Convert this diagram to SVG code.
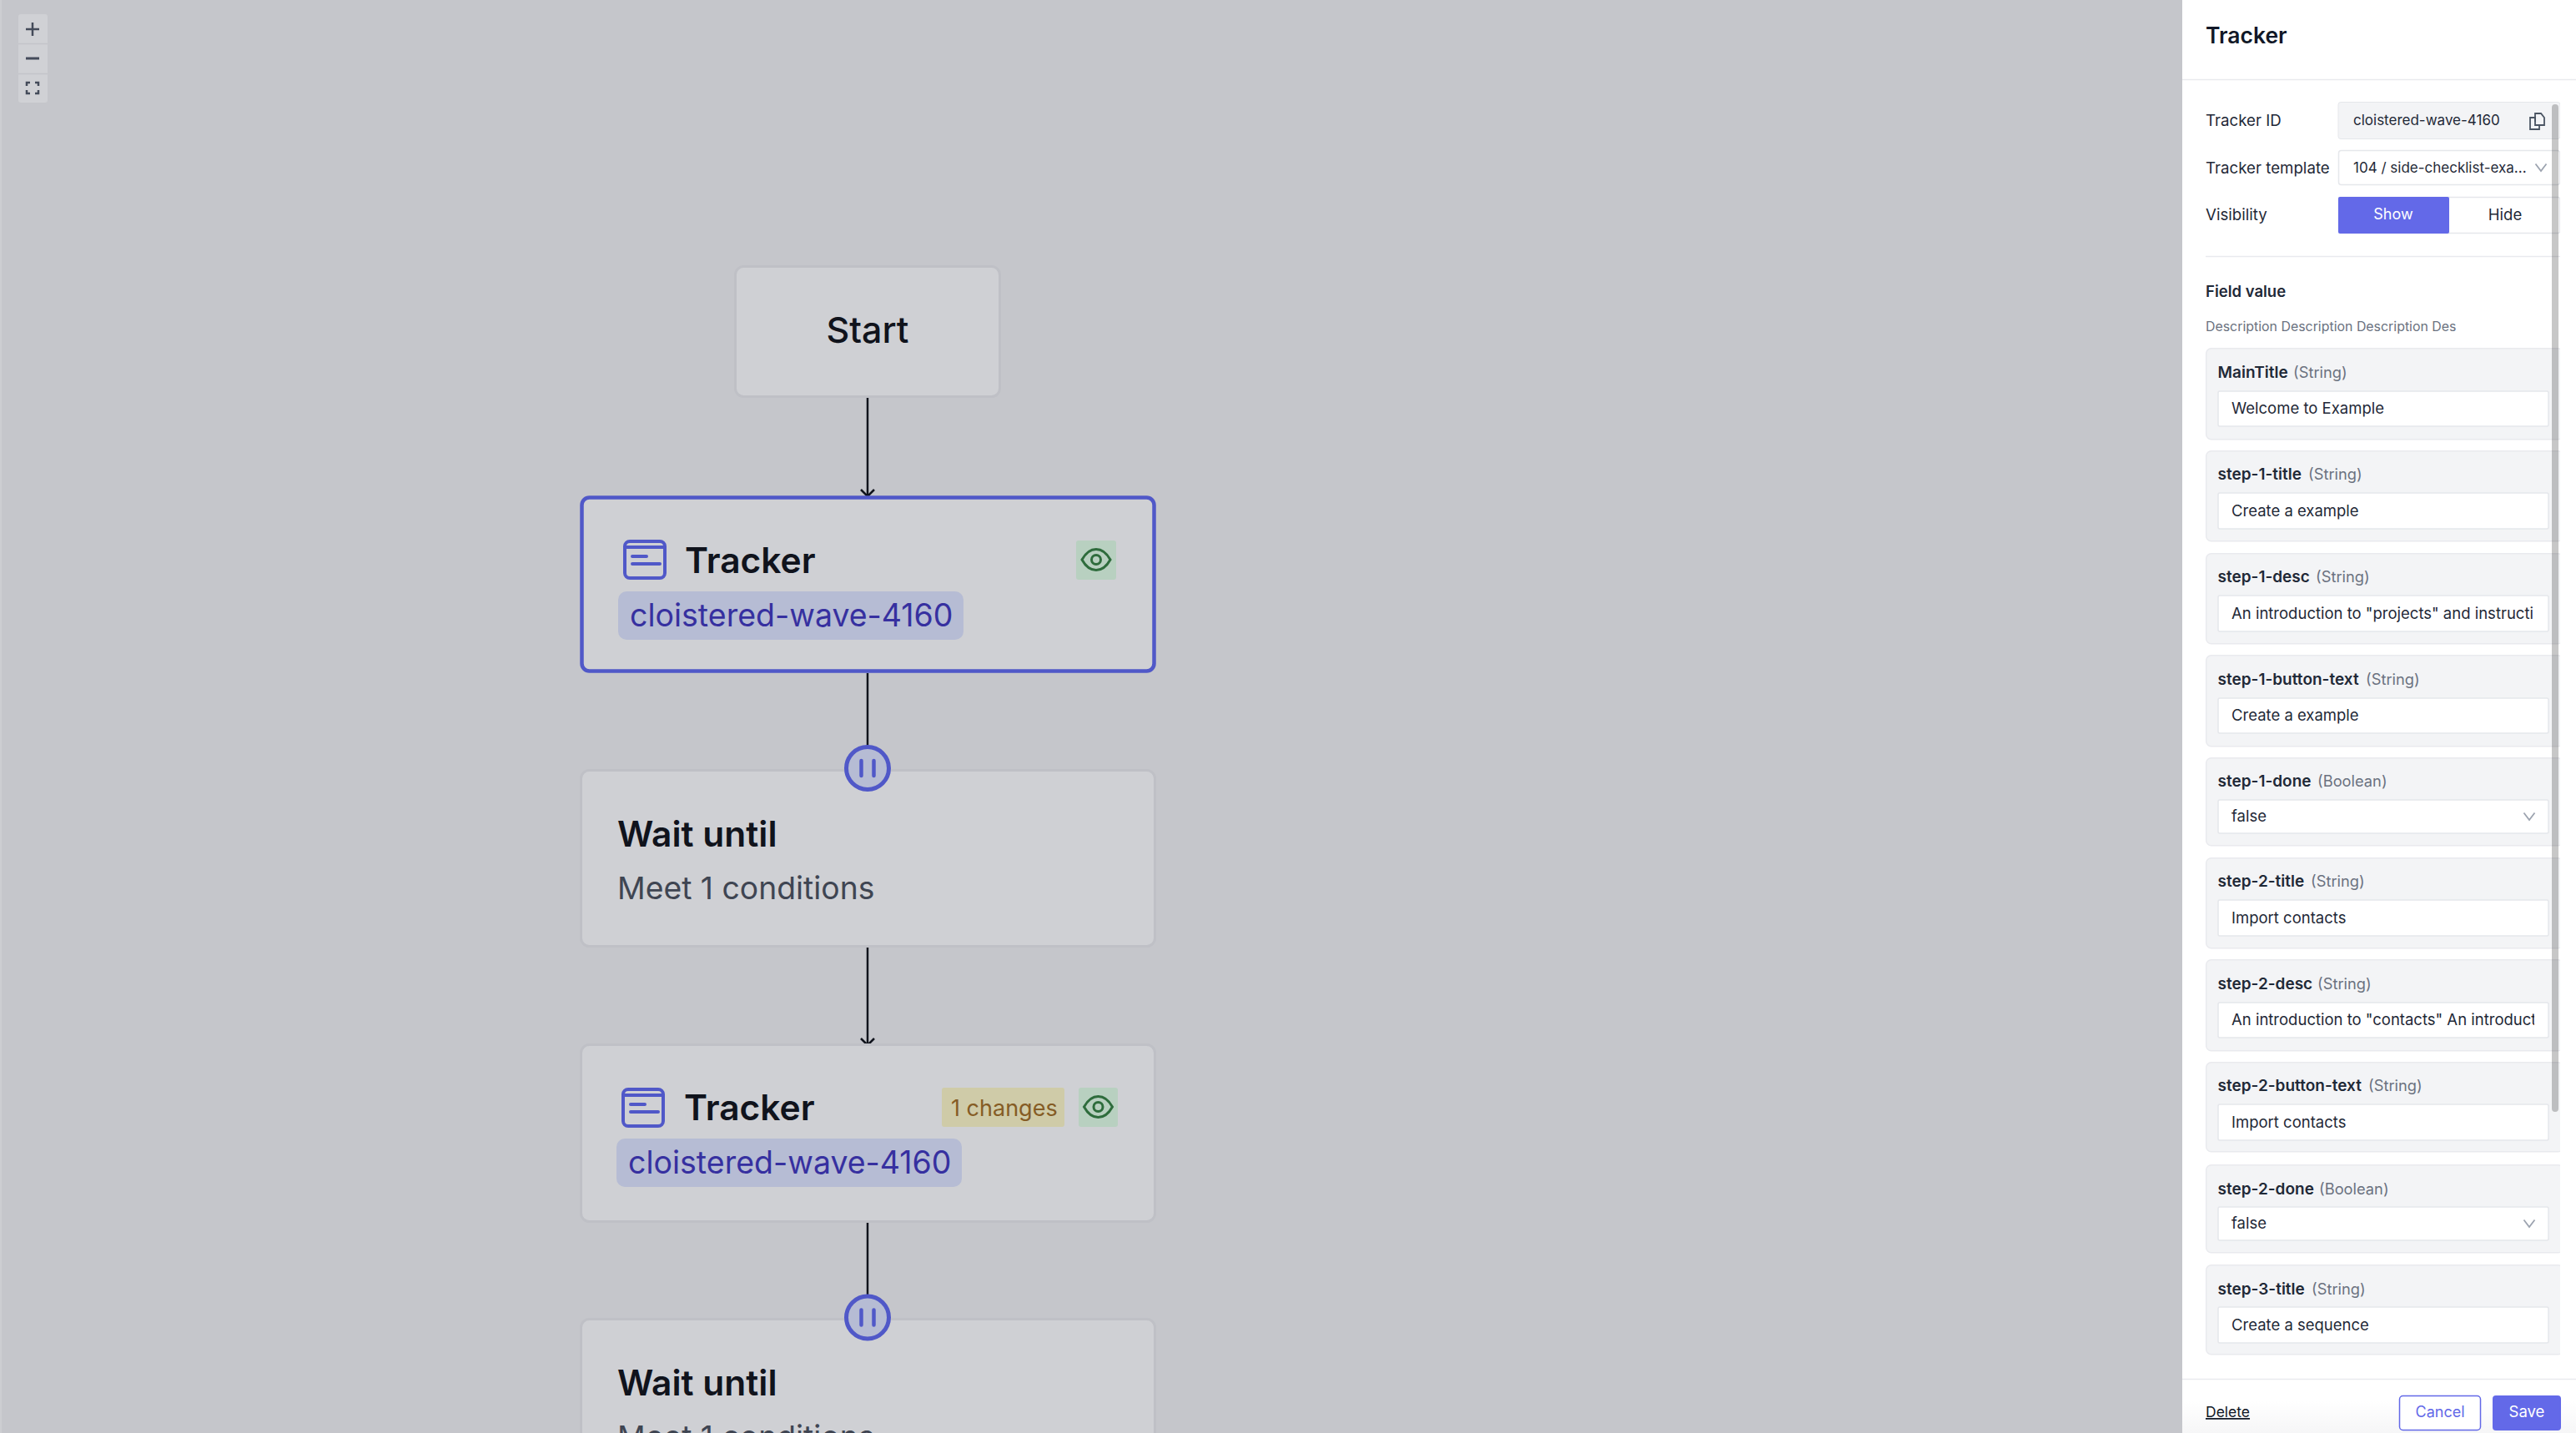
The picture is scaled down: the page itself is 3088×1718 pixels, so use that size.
<svg xmlns="http://www.w3.org/2000/svg" xmlns:xlink="http://www.w3.org/1999/xlink" width="3088" height="1718" viewBox="0 0 3088 1718">
<style>
text{font-family:Inter,"Noto Sans","Liberation Sans",sans-serif}
.node{fill:#cfd0d4;stroke:#bfc0c6;stroke-width:3}
.sel{fill:#cfd0d4;stroke:#5058c8;stroke-width:4.500}
.edge{stroke:#11141d;stroke-width:2.5;fill:none}
.t1{font-size:42.5px;font-weight:600;fill:#10131c}
.start{font-size:43px;font-weight:500;fill:#10131c}
.sub{font-size:37.3px;fill:#3f4552}
.chip{fill:#b6bcd4}
.chipt{font-size:37.500px;fill:#3630a0}
.ic{fill:none;stroke:#5058c8;stroke-width:4;stroke-linecap:round}
.eyebox{fill:#b8d0c0}
.eye{fill:none;stroke:#2e6c3c;stroke-width:3}
.pbg{fill:#b6bcd4;stroke:#5058c8;stroke-width:5}
.pbar{stroke:#5058c8;stroke-width:4.5;stroke-linecap:round}
.lab{font-size:18.700px;fill:#1f2937}
.in{font-size:18.500px;fill:#1f2937}
.top{font-size:17px;fill:#1f2937}
.fn{font-size:19px;font-weight:600;fill:#1f2937}
.ft{font-size:18.300px;fill:#6b7280}
.card{fill:#f3f4f6;stroke:#e9eaee;stroke-width:1.5}
.inp{fill:#fff;stroke:#e5e7eb;stroke-width:1.5}
.chev{fill:none;stroke:#9ca3af;stroke-width:1.8}
.ctl{stroke:#444b5a;fill:none}
</style>
<defs>
<marker id="arr" markerUnits="userSpaceOnUse" markerWidth="20" markerHeight="20" refX="10" refY="10" orient="auto" viewBox="0 0 20 20"><path d="M2 2 L10 10 L2 18" fill="none" stroke="#11141d" stroke-width="2.5"/></marker>
<clipPath id="c1"><rect x="2660" y="700" width="379" height="70"/></clipPath>
<clipPath id="c2"><rect x="2660" y="1190" width="378" height="70"/></clipPath>
<linearGradient id="fade" x1="0" y1="0" x2="0" y2="1"><stop offset="0" stop-color="#fff"/><stop offset="1" stop-color="#f6f6f7"/></linearGradient>
<g id="eye"><path class="eye" d="M-17 0C-12-9-6-12.500 0-12.500S12-9 17 0C12 9 6 12.500 0 12.500S-12 9-17 0Z"/><circle class="eye" r="5.500"/></g>
<g id="trk"><rect class="ic" x="2" y="2" width="48" height="44" rx="6"/><path class="ic" d="M2 9H50"/><path class="ic" d="M11 20H28M11 29H44"/></g>
<g id="pause"><circle class="pbg" r="25.500"/><path class="pbar" d="M-7.500-9V9M7.500-9V9"/></g>
<g id="chv"><path class="chev" d="M-6.500-4.500L0 4L6.500-4.500"/></g>
</defs>
<rect width="3088" height="1718" fill="#c5c6cb"/>
<rect width="2" height="1718" fill="#cdced2"/>
<g id="controls">
<rect x="22" y="17" width="35" height="106" rx="3" fill="#d0d1d5"/>
<path d="M22 52.500H57M22 88.500H57" stroke="#c3c4c9" stroke-width="1.500"/>
<path class="ctl" stroke-width="2.500" d="M39 27V43M31 35H47"/>
<path class="ctl" stroke-width="3" d="M31 70H47"/>
<path class="ctl" stroke-width="2.500" d="M32 103V99H36M42 99H46V103M46 108V112H42M36 112H32V108"/>
</g>
<g id="connectors">
<line class="edge" x1="1040" y1="477" x2="1040" y2="595" marker-end="url(#arr)"/>
<line class="edge" x1="1040" y1="807" x2="1040" y2="895"/>
<line class="edge" x1="1040" y1="1136" x2="1040" y2="1253" marker-end="url(#arr)"/>
<line class="edge" x1="1040" y1="1465" x2="1040" y2="1553"/>
</g>
<g id="node-start">
<rect class="node" x="881.500" y="319.500" width="317" height="156" rx="10"/>
<text class="start" x="1040" y="411" text-anchor="middle">Start</text>
</g>
<g id="node-tracker-1">
<rect class="sel" x="697.500" y="596.500" width="686" height="208" rx="9"/>
<use xlink:href="#trk" href="#trk" x="747" y="647"/>
<text class="t1" x="821" y="687">Tracker</text>
<rect class="eyebox" x="1290" y="648" width="48" height="47" rx="3"/>
<use xlink:href="#eye" href="#eye" x="1314" y="671"/>
<rect class="chip" x="741" y="709" width="414" height="58" rx="10"/>
<text class="chipt" x="755" y="751">cloistered-wave-4160</text>
</g>
<g id="node-wait-1">
<rect class="node" x="696.500" y="923.500" width="688" height="211" rx="10"/>
<text class="t1" x="740" y="1015">Wait until</text>
<text class="sub" x="740" y="1078">Meet 1 conditions</text>
</g>
<g id="node-tracker-2">
<rect class="node" x="696.500" y="1252.500" width="688" height="212" rx="10"/>
<use xlink:href="#trk" href="#trk" x="745" y="1304"/>
<text class="t1" x="820" y="1343">Tracker</text>
<rect x="1129" y="1304" width="147" height="47" rx="3" fill="#cfcba8"/>
<text x="1140" y="1338" font-size="27" fill="#855c25">1 changes</text>
<rect class="eyebox" x="1293" y="1304" width="47" height="47" rx="3"/>
<use xlink:href="#eye" href="#eye" x="1316.500" y="1327"/>
<rect class="chip" x="739" y="1365" width="414" height="58" rx="10"/>
<text class="chipt" x="753" y="1407">cloistered-wave-4160</text>
</g>
<g id="node-wait-2">
<rect class="node" x="696.500" y="1581.500" width="688" height="211" rx="10"/>
<text class="t1" x="740" y="1673">Wait until</text>
<text class="sub" x="740" y="1736">Meet 1 conditions</text>
</g>
<g id="pause-1"><use xlink:href="#pause" href="#pause" x="1040" y="921"/></g>
<g id="pause-2"><use xlink:href="#pause" href="#pause" x="1040" y="1579.500"/></g>
<g id="panel">
<rect x="2616" y="0" width="472" height="1718" fill="#fff"/>
<rect x="2616" y="1680" width="472" height="38" fill="url(#fade)"/>
<text x="2644" y="52" font-size="26.500" font-weight="600" fill="#111827">Tracker</text>
<path d="M2616 95.500H3088M2644 307.500H3069M2616 1653.500H3088" stroke="#e9eaee" stroke-width="1.500"/>
<text class="lab" x="2644" y="151">Tracker ID</text>
<rect x="2803" y="122.500" width="266" height="44" rx="3" fill="#f3f4f6" stroke="#e5e7eb" stroke-width="1"/>
<text class="top" x="2821" y="150">cloistered-wave-4160</text>
<g fill="none" stroke="#4b5563" stroke-width="1.800"><path d="M3039 146V141H3033V155H3044V150"/><path d="M3039 142V136H3046L3050 141V150H3039Z"/></g>
<text class="lab" x="2644" y="208">Tracker template</text>
<rect x="2803.500" y="180.500" width="265" height="41" rx="3" fill="#fff" stroke="#e5e7eb" stroke-width="1.500"/>
<text class="top" x="2821" y="207">104 / side-checklist-exa...</text>
<use xlink:href="#chv" href="#chv" x="3046" y="201"/>
<text class="lab" x="2644" y="264">Visibility</text>
<rect x="2803.500" y="236.500" width="265" height="43" rx="2" fill="#fff" stroke="#e5e7eb" stroke-width="1.500"/>
<rect x="2803" y="236" width="133" height="44" rx="2" fill="#6369e8"/>
<text x="2869" y="263" font-size="18" text-anchor="middle" fill="#fff">Show</text>
<text class="in" x="3003" y="264" text-anchor="middle">Hide</text>
<text x="2644" y="356" font-size="18.500" font-weight="600" fill="#1f2937">Field value</text>
<text x="2644" y="397" font-size="15.900" fill="#6b7280">Description Description Description Des</text>
<g id="f-maintitle"><rect class="card" x="2644.700" y="417.700" width="428" height="109" rx="6"/><text class="fn" x="2658.500" y="453">MainTitle</text><text class="ft" x="2749" y="453">(String)</text><rect class="inp" x="2659" y="469" width="396" height="42" rx="2"/><text class="in" x="2675" y="496">Welcome to Example</text></g>
<g id="f-s1title"><rect class="card" x="2644.700" y="540.700" width="428" height="108" rx="6"/><text class="fn" x="2658.500" y="575">step-1-title</text><text class="ft" x="2767" y="575">(String)</text><rect class="inp" x="2659" y="591" width="396" height="43" rx="2"/><text class="in" x="2675" y="619">Create a example</text></g>
<g id="f-s1desc"><rect class="card" x="2644.700" y="663.700" width="428" height="108" rx="6"/><text class="fn" x="2658.500" y="698">step-1-desc</text><text class="ft" x="2776" y="698">(String)</text><rect class="inp" x="2659" y="714" width="396" height="43" rx="2"/><text class="in" x="2675" y="742" clip-path="url(#c1)">An introduction to "projects" and instructi</text></g>
<g id="f-s1btn"><rect class="card" x="2644.700" y="785.700" width="428" height="109" rx="6"/><text class="fn" x="2658.500" y="821">step-1-button-text</text><text class="ft" x="2836" y="821">(String)</text><rect class="inp" x="2659" y="837" width="396" height="42" rx="2"/><text class="in" x="2675" y="864">Create a example</text></g>
<g id="f-s1done"><rect class="card" x="2644.700" y="908.700" width="428" height="105" rx="6"/><text class="fn" x="2658.500" y="943">step-1-done</text><text class="ft" x="2778" y="943">(Boolean)</text><rect class="inp" x="2659" y="959" width="396" height="40" rx="2"/><text class="in" x="2675" y="985">false</text><use xlink:href="#chv" href="#chv" x="3032" y="979"/></g>
<g id="f-s2title"><rect class="card" x="2644.700" y="1028.700" width="428" height="108" rx="6"/><text class="fn" x="2658.500" y="1063">step-2-title</text><text class="ft" x="2770" y="1063">(String)</text><rect class="inp" x="2659" y="1079" width="396" height="43" rx="2"/><text class="in" x="2675" y="1107">Import contacts</text></g>
<g id="f-s2desc"><rect class="card" x="2644.700" y="1150.700" width="428" height="109" rx="6"/><text class="fn" x="2658.500" y="1186">step-2-desc</text><text class="ft" x="2778" y="1186">(String)</text><rect class="inp" x="2659" y="1202" width="396" height="42" rx="2"/><text class="in" x="2675" y="1229" clip-path="url(#c2)">An introduction to "contacts" An introduct</text></g>
<g id="f-s2btn"><rect class="card" x="2644.700" y="1273.700" width="428" height="107" rx="6"/><text class="fn" x="2658.500" y="1308">step-2-button-text</text><text class="ft" x="2839" y="1308">(String)</text><rect class="inp" x="2659" y="1324" width="396" height="43" rx="2"/><text class="in" x="2675" y="1352">Import contacts</text></g>
<g id="f-s2done"><rect class="card" x="2644.700" y="1396.700" width="428" height="105" rx="6"/><text class="fn" x="2658.500" y="1432">step-2-done</text><text class="ft" x="2780" y="1432">(Boolean)</text><rect class="inp" x="2659" y="1447" width="396" height="40" rx="2"/><text class="in" x="2675" y="1473">false</text><use xlink:href="#chv" href="#chv" x="3032" y="1467"/></g>
<g id="f-s3title"><rect class="card" x="2644.700" y="1516.700" width="428" height="107" rx="6"/><text class="fn" x="2658.500" y="1552">step-3-title</text><text class="ft" x="2771" y="1552">(String)</text><rect class="inp" x="2659" y="1567" width="396" height="43" rx="2"/><text class="in" x="2675" y="1595">Create a sequence</text></g>
<rect x="3069" y="100" width="19" height="1540" fill="#fff"/>
<rect x="3059" y="125" width="8" height="1208" rx="4" fill="#000" fill-opacity=".22"/>
<g id="btn-delete"><text x="2644" y="1699" font-size="17.500" fill="#111827" text-decoration="underline">Delete</text></g>
<g id="btn-cancel"><rect x="2876.500" y="1673.500" width="97" height="41" rx="4" fill="#fff" stroke="#6369e8" stroke-width="1.500"/><text x="2925" y="1699" font-size="18" text-anchor="middle" fill="#6369e8">Cancel</text></g>
<g id="btn-save"><rect x="2988" y="1673" width="82" height="42" rx="4" fill="#6369e8"/><text x="3029" y="1699" font-size="18.500" text-anchor="middle" fill="#fff">Save</text></g>
</g>
</svg>
